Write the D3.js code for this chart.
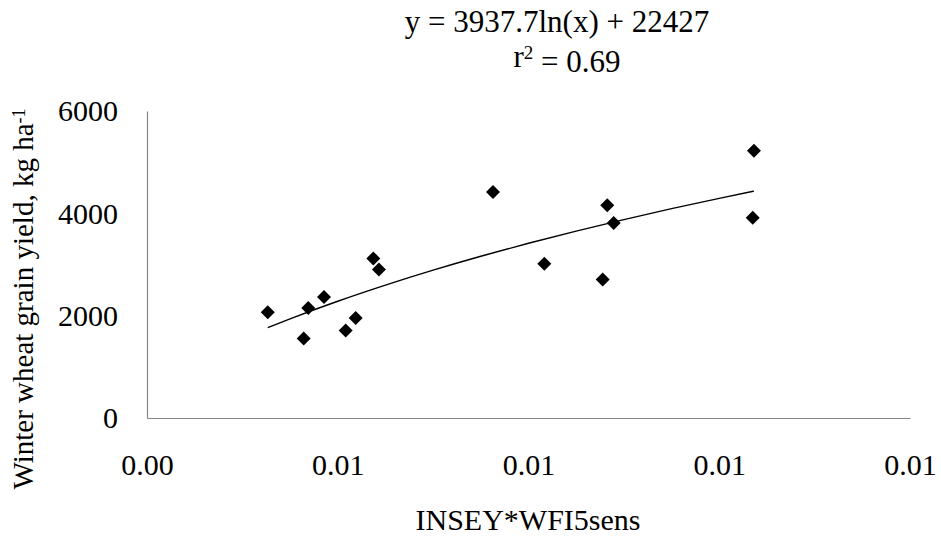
<!DOCTYPE html>
<html>
<head>
<meta charset="utf-8">
<script src="https://cdn.jsdelivr.net/npm/d3@7"></script>
<style>
  html, body { margin: 0; padding: 0; background: #fff; }
  svg { display: block; }
  text { font-family: "Liberation Serif", "Times New Roman", serif; fill: #000; }
</style>
</head>
<body>
<script>
// ---- Data ----
const xValues = [0.005266, 0.005691, 0.005856, 0.005643, 0.006188, 0.006083, 0.006373, 0.006432,
                 0.007628, 0.008166, 0.008826, 0.008893, 0.008778, 0.010364, 0.010351];
const yValues = [2065, 2151, 2367, 1555, 1955, 1712, 3118, 2902,
                 4418, 3014, 4157, 3810, 2706, 5222, 3916];
const xTicks = [0.004, 0.006, 0.008, 0.010, 0.012];
const yTicks = [0, 2000, 4000, 6000];
const trendA = 3937.7;   // y = a ln(x) + b
const trendB = 22427;
const trendSamples = [0.005266, 0.0055, 0.006, 0.0065, 0.007, 0.0075, 0.008, 0.0085, 0.009, 0.0095, 0.010, 0.010364];

const W = 941, H = 542;
const svg = d3.select("body").append("svg").attr("width", W).attr("height", H);

const x = d3.scaleLinear().domain([0.004, 0.012]).range([147, 910]);
const y = d3.scaleLinear().domain([0, 6000]).range([418, 111]);

// Axes
const xAxis = svg.append("g").attr("transform", "translate(0,418)")
  .call(d3.axisBottom(x).tickValues(xTicks).tickFormat(d3.format(".2f")).tickSize(0).tickSizeOuter(0));
xAxis.select(".domain").attr("stroke", "#868686").attr("stroke-width", 1.2);
xAxis.selectAll("text").attr("y", 57).attr("dy", 0).style("font-size", "30px")
  .style("font-family", "'Liberation Serif', serif").attr("fill", "#000");

const yAxis = svg.append("g").attr("transform", "translate(147,0)")
  .call(d3.axisLeft(y).tickValues(yTicks).tickFormat(d3.format("d")).tickSize(0).tickSizeOuter(0).tickPadding(29));
yAxis.select(".domain").attr("stroke", "#868686").attr("stroke-width", 1.2);
yAxis.selectAll("text").attr("dy", "0.33em").style("font-size", "30px")
  .style("font-family", "'Liberation Serif', serif").attr("fill", "#000");

// Trendline
const line = d3.line().x(d => x(d)).y(d => y(trendA * Math.log(d) + trendB)).curve(d3.curveMonotoneX);
svg.append("path").datum(trendSamples).attr("d", line)
  .attr("fill", "none").attr("stroke", "#000").attr("stroke-width", 1.4);

// Points (diamonds = rotated squares)
const sym = d3.symbol().type(d3.symbolSquare).size(98);
svg.append("g").selectAll("path").data(xValues.map((v, i) => [v, yValues[i]])).join("path")
  .attr("d", sym)
  .attr("transform", d => `translate(${x(d[0])},${y(d[1])}) rotate(45)`)
  .attr("fill", "#000");

// Equation label
svg.append("text").attr("x", 557).attr("y", 32).attr("text-anchor", "middle")
  .style("font-size", "31px").text("y = 3937.7ln(x) + 22427");
const r2 = svg.append("text").attr("x", 567).attr("y", 67).attr("text-anchor", "middle")
  .style("font-size", "31px");
r2.append("tspan").text("r");
r2.append("tspan").attr("dy", "-0.4em").style("font-size", "19px").text("2");
r2.append("tspan").attr("dy", "0.4em").text(" = 0.69");

// Axis titles
svg.append("text").attr("x", 528).attr("y", 530).attr("text-anchor", "middle")
  .style("font-size", "30px").text("INSEY*WFI5sens");

const yt = svg.append("text").attr("transform", "translate(33,299) rotate(-90)")
  .attr("text-anchor", "middle").style("font-size", "29px");
yt.append("tspan").text("Winter wheat grain yield, kg ha");
yt.append("tspan").attr("dy", "-0.45em").style("font-size", "18px").text("-1");
</script>
</body>
</html>
